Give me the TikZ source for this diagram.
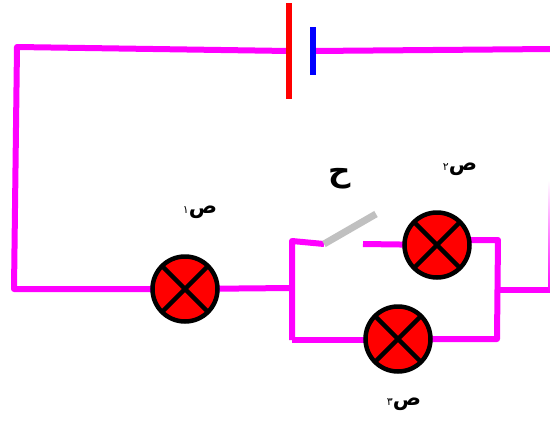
\documentclass[tikz,border=0pt]{standalone}
\usepackage{fontspec}
\newfontfamily\arabicfont[Script=Arabic]{DejaVu Sans}
\TeXXeTstate=1
\definecolor{wirecol}{RGB}{255,0,255}
\definecolor{swcol}{RGB}{192,192,192}
\tikzset{
  wire/.style={draw=wirecol,line width=6pt,line join=round},
  lamp/.style={circle,draw=black,fill=red,line width=4.5pt,minimum size=65pt,inner sep=0pt,
    path picture={\draw[black,line width=4.5pt]
      (path picture bounding box.north west)--(path picture bounding box.south east)
      (path picture bounding box.north east)--(path picture bounding box.south west);}},
  lbl/.style={font=\arabicfont\bfseries\fontsize{21}{21}\selectfont,inner sep=0pt},
}
\newcommand{\subnum}[1]{{\fontsize{11}{11}\selectfont\mdseries #1}}
\begin{document}
\begin{tikzpicture}[x=1pt,y=-1pt]
\useasboundingbox (0,0) rectangle (550,421);
\clip (0,0) rectangle (550,421);
% corners and junctions
\coordinate (tl) at (17,47);
\coordinate (bl) at (14,289);
\coordinate (batL) at (289,51);
\coordinate (batR) at (313,51);
\coordinate (tr) at (552,49);
\coordinate (j1) at (292,288);
\coordinate (j1u) at (292,241);
\coordinate (j1d) at (292,340);
\coordinate (swA) at (324,244);
\coordinate (swB) at (376,214);
\coordinate (swC) at (363,244);
\coordinate (r0) at (470,240);
\coordinate (r1) at (498,240);
\coordinate (r2) at (497,339);
\coordinate (r3) at (498,290);
\coordinate (er) at (552,290);
% lamps
\coordinate (L1c) at (185,289);
\coordinate (L2c) at (437,245);
\coordinate (L3c) at (398,339);
% wires under the lamps
\draw[wire] (batL) -- (tl) -- (bl) -- (L1c);
\draw[wire] (batR) -- (tr);
\draw[wire] (L1c) -- (j1);
\draw[wire] (j1d) -- (j1u) -- (swA);
\draw[wire] (swC) -- (L2c);
\draw[wire] (j1d) -- (L3c |- j1d);
\draw[wire] (r0) -- (r1) -- (r2) -- (L3c |- r2);
\draw[wire] (r3) -- (er);
\shade[top color=white,bottom color=wirecol] (548.6,180) rectangle (550,291);
\node[lamp] (L1) at (L1c) {};
\node[lamp] (L2) at (L2c) {};
\node[lamp] (L3) at (L3c) {};
% switch
\draw[line width=7pt,swcol] (swA) -- (swB);
% battery
\coordinate (b1t) at (289,3); \coordinate (b1b) at (289,99);
\coordinate (b2t) at (313,27); \coordinate (b2b) at (313,75);
\draw[red,line width=6.5pt] (b1t) -- (b1b);
\draw[blue,line width=6.5pt] (b2t) -- (b2b);
% labels
\node[inner sep=0pt,font=\arabicfont\bfseries\fontsize{31}{31}\selectfont] (h) at (340,179) {\beginR ح\endR};
\node[lbl] (p1) at (200,212) {\beginR ص\subnum{١}\endR};
\node[lbl] (p2) at (460,169) {\beginR ص\subnum{٢}\endR};
\node[lbl] (p3) at (404,404) {\beginR ص\subnum{٣}\endR};
\end{tikzpicture}
\end{document}
